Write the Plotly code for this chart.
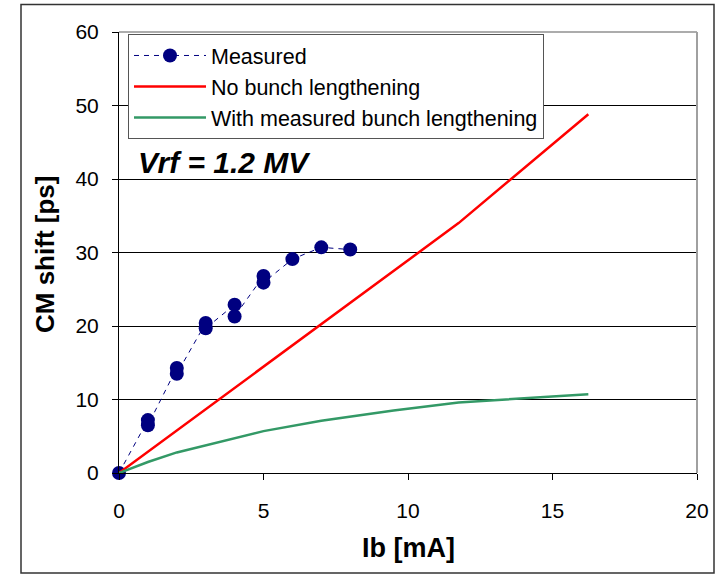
import plotly.graph_objects as go

# Measured data
meas_x = [0, 1, 1, 2, 2, 3, 3, 4, 4, 5, 5, 6, 7, 8]
meas_y = [0, 7.2, 6.5, 14.3, 13.5, 20.4, 19.7, 22.9, 21.3, 26.8, 25.9, 29.1, 30.7, 30.4]

# Model curves
model_x = [0, 1, 2, 3, 5, 7, 9.5, 11.75, 16.24]
no_bl_y = [0, 2.9, 5.8, 8.7, 14.5, 20.3, 27.5, 34.0, 48.8]
with_bl_y = [0, 1.5, 2.8, 3.8, 5.7, 7.1, 8.5, 9.6, 10.7]

x_ticks = [0, 5, 10, 15, 20]
y_ticks = [0, 10, 20, 30, 40, 50, 60]

FONT = "Liberation Sans, Arial, sans-serif"

fig = go.Figure()
fig.add_trace(go.Scatter(
    x=meas_x, y=meas_y, name="Measured", mode="lines+markers",
    line=dict(color="#000080", width=1, dash="5px,5px"),
    marker=dict(color="#000080", size=14, symbol="circle"),
    cliponaxis=False,
))
fig.add_trace(go.Scatter(
    x=model_x, y=no_bl_y, name="No bunch lengthening", mode="lines",
    line=dict(color="#FF0000", width=2.5),
))
fig.add_trace(go.Scatter(
    x=model_x, y=with_bl_y, name="With measured bunch lengthening", mode="lines",
    line=dict(color="#339966", width=2.5),
))

L, R, T, B = 119, 697, 32, 473
W, H = 716, 574
pw, ph = R - L, B - T

def px(xp):
    return (xp - L) / pw

def py(yp):
    return (B - yp) / ph

fig.update_layout(
    width=W, height=H,
    margin=dict(l=L, r=W - R, t=T, b=H - B, autoexpand=False),
    paper_bgcolor="white", plot_bgcolor="white",
    font=dict(family=FONT, size=21, color="black"),
    showlegend=True,
    legend=dict(
        x=px(128), y=py(34), xanchor="left", yanchor="top",
        bgcolor="white", bordercolor="#555555", borderwidth=1,
        font=dict(family=FONT, size=21.5, color="black"),
        itemwidth=72, tracegroupgap=0,
    ),
    xaxis=dict(
        range=[0, 20], tickvals=x_ticks, ticktext=[str(v) for v in x_ticks],
        showgrid=False, zeroline=False,
        showline=True, linecolor="black", linewidth=1,
        ticks="outside", ticklen=6, tickcolor="black",
        ticklabelstandoff=13,
        tickfont=dict(family=FONT, size=21, color="black"),
    ),
    yaxis=dict(
        range=[0, 60], tickvals=y_ticks, ticktext=[str(v) for v in y_ticks],
        showgrid=True, gridcolor="black", gridwidth=1, zeroline=False,
        showline=True, linecolor="black", linewidth=1,
        ticks="outside", ticklen=6, tickcolor="black",
        ticklabelstandoff=9,
        tickfont=dict(family=FONT, size=21, color="black"),
    ),
    shapes=[
        # plot area top/right border (gray)
        dict(type="line", xref="paper", yref="paper", x0=0, x1=1, y0=1, y1=1,
             line=dict(color="#909090", width=1.5)),
        dict(type="line", xref="paper", yref="paper", x0=1, x1=1, y0=0, y1=1,
             line=dict(color="#A0A0A0", width=2)),
        # outer chart frame
        dict(type="rect", xref="paper", yref="paper",
             x0=px(21), x1=px(714), y0=py(573), y1=py(4.5),
             line=dict(color="#333333", width=1.5), layer="below"),
    ],
    annotations=[
        dict(text="<b><i>Vrf = 1.2 MV</i></b>", xref="paper", yref="paper",
             x=px(136), y=py(162), xanchor="left", yanchor="middle",
             showarrow=False, font=dict(family=FONT, size=30, color="black")),
        dict(text="<b>Ib [mA]</b>", xref="paper", yref="paper",
             x=px(408), y=py(548), xanchor="center", yanchor="middle",
             showarrow=False, font=dict(family=FONT, size=27, color="black")),
        dict(text="<b>CM shift [ps]</b>", xref="paper", yref="paper",
             x=px(45), y=py(255), xanchor="center", yanchor="middle",
             textangle=-90, showarrow=False,
             font=dict(family=FONT, size=26, color="black")),
    ],
)

fig.write_html("out.html")
